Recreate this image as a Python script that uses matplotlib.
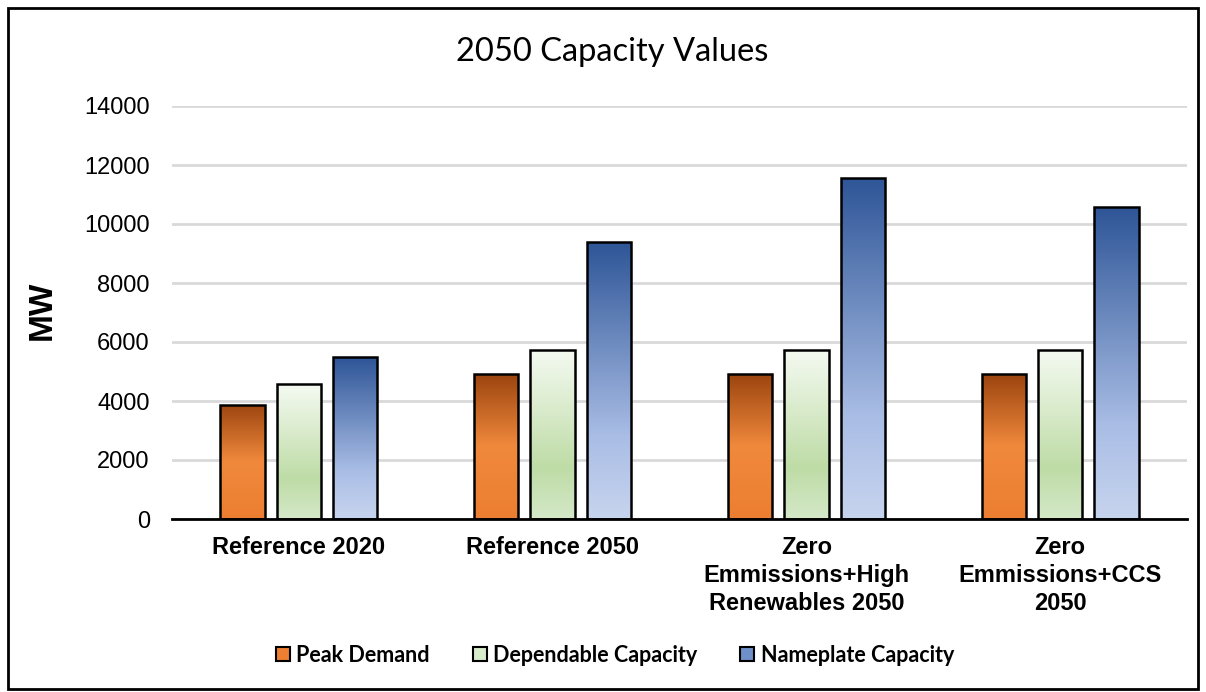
import matplotlib
matplotlib.use("Agg")
import matplotlib.pyplot as plt
from matplotlib.colors import LinearSegmentedColormap
from matplotlib.patches import Rectangle, Patch
import numpy as np

categories = ["Reference 2020", "Reference 2050",
              "Zero\nEmmissions+High\nRenewables 2050",
              "Zero\nEmmissions+CCS\n2050"]
series_names = ["Peak Demand", "Dependable Capacity", "Nameplate Capacity"]
peak_demand = [3870, 4910, 4910, 4910]
dependable = [4570, 5730, 5730, 5730]
nameplate = [5480, 9380, 11560, 10570]
yticks = [0, 2000, 4000, 6000, 8000, 10000, 12000, 14000]

# gradients run top -> bottom of each bar
grads = [
    [(0.0, "#9c4510"), (0.5, "#f0893c"), (1.0, "#ec7e31")],
    [(0.0, "#f5faf2"), (0.7, "#bedca6"), (1.0, "#d4e8c8")],
    [(0.0, "#2e5597"), (0.7, "#a9bde5"), (1.0, "#c7d4ee")],
]
legend_cols = ["#ee7f32", "#d8ebcb", "#6f8fc8"]

fig = plt.figure(figsize=(12.06, 6.92), dpi=100)
ax = fig.add_axes([172/1206, 1 - 519/692, (1187-172)/1206, (519-106)/692])

x = np.arange(len(categories))
pitch = 0.222
width = 0.175
data = [peak_demand, dependable, nameplate]
for i, vals in enumerate(data):
    cmap = LinearSegmentedColormap.from_list("g%d" % i, grads[i])
    bars = ax.bar(x + (i - 1) * pitch, vals, width, color="none",
                  edgecolor="black", linewidth=1.8, zorder=3)
    grad = np.linspace(0, 1, 256).reshape(-1, 1)
    for b in bars:
        x0 = b.get_x()
        h = b.get_height()
        im = ax.imshow(grad, cmap=cmap, aspect="auto",
                       extent=(x0, x0 + b.get_width(), 0, h),
                       origin="upper", zorder=2)
        im.set_clip_path(b)

ax.set_xlim(-0.5, len(categories) - 0.5)
ax.set_ylim(0, 14000)
ax.set_yticks(yticks)
ax.set_xticks(x)
ax.set_xticklabels(categories, fontsize=17, fontweight="bold",
                   family="Liberation Sans", linespacing=1.3)
for lab in ax.get_yticklabels():
    lab.set_family("Liberation Sans")
    lab.set_fontsize(17)
ax.tick_params(axis="y", length=0, pad=16)
ax.tick_params(axis="x", length=0, pad=12)
ax.grid(axis="y", color="#d9d9d9", linewidth=2, zorder=0)
ax.set_axisbelow(True)
for s in ["top", "right", "left"]:
    ax.spines[s].set_visible(False)
ax.spines["bottom"].set_linewidth(2)
ax.spines["bottom"].set_zorder(4)

ax.set_ylabel("MW", fontsize=24, fontweight="bold",
              family="Liberation Sans")
ax.yaxis.set_label_coords((58 - 172) / 1015, (519 - 310) / 413)

fig.text(612/1206, 1 - 52/692, "2050 Capacity Values", ha="center",
         va="center", fontsize=23.5, family="Lato")

handles = [Patch(facecolor=c, edgecolor="black", linewidth=1.5)
           for c in legend_cols]
fig.legend(handles, series_names, loc="center", ncol=3,
           bbox_to_anchor=(615/1206, 1 - 655/692), frameon=False,
           prop={"family": "Lato", "size": 15.5, "weight": "bold"},
           handlelength=0.65, handleheight=0.65, handletextpad=0.3,
           columnspacing=2.0)

fig.patches.append(Rectangle((8/1206, 3/692), 1190/1206, 681/692,
                             transform=fig.transFigure, fill=False,
                             edgecolor="black", linewidth=2))

fig.savefig("out.png", dpi=100)
